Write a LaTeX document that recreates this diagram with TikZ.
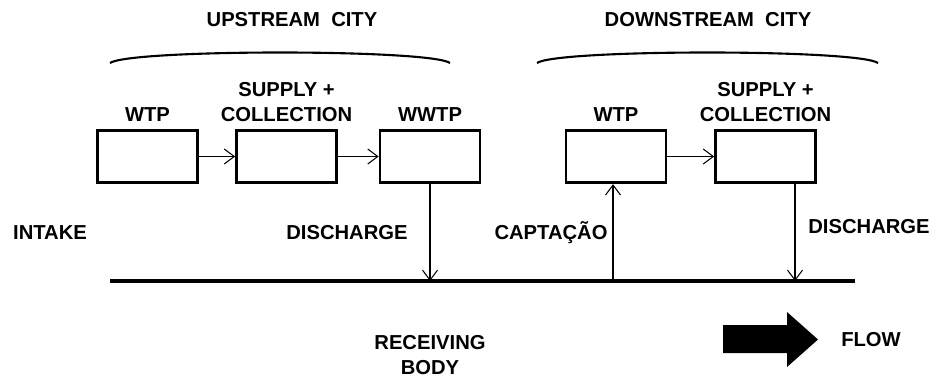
\documentclass[tikz,border=0pt]{standalone}
\usepackage{fontspec}
\setmainfont{Liberation Sans}
\usepackage{tikz}
\usetikzlibrary{arrows.meta}

\tikzset{
  box/.style={draw, line width=1.6pt, minimum width=2cm, minimum height=1.05cm},
  txt/.style={font=\fontsize{11.5}{14.2}\selectfont\bfseries, align=center},
  boxlabel/.style={label={[txt, label distance=0.02cm]above:#1}},
  pipe/.style={-{Straight Barb[length=2mm,width=3mm]}, line width=0.6pt}
}

\begin{document}
\begin{tikzpicture}
\useasboundingbox (0,0) rectangle (18.74,7.56);

\node[txt] (upcity) at (5.84,7.16) {UPSTREAM~~CITY};
\node[txt] (downcity) at (14.16,7.16) {DOWNSTREAM~~CITY};
\draw[line width=1.2pt] (2.2,6.30) .. controls (2.6,6.58) and (8.6,6.58) .. (9.0,6.30);
\draw[line width=1.2pt] (10.74,6.30) .. controls (11.14,6.58) and (17.16,6.58) .. (17.56,6.30);

\node[box, boxlabel={WTP}] (wtp1) at (2.95,4.43) {};
\node[box, boxlabel={SUPPLY +\\COLLECTION}] (supply1) at (5.73,4.43) {};
\node[box, boxlabel={WWTP}] (wwtp) at (8.6,4.43) {};
\node[box, boxlabel={WTP}] (wtp2) at (12.32,4.43) {};
\node[box, boxlabel={SUPPLY +\\COLLECTION}] (supply2) at (15.31,4.43) {};

\draw[pipe] (wtp1) -- (supply1);
\draw[pipe] (supply1) -- (wwtp);
\draw[pipe] (wtp2) -- (supply2);

\coordinate (riverw) at (2.2,1.94);
\coordinate (rivere) at (17.1,1.94);
\draw[line width=2pt] (riverw) -- (rivere);

\coordinate (out1) at (8.6,1.94);
\coordinate (in2) at (12.26,1.94);
\coordinate (out2) at (15.9,1.94);
\draw[pipe] (wwtp.south) -- (out1);
\draw[pipe] (in2) -- (in2 |- wtp2.south);
\draw[pipe] (out2 |- supply2.south) -- (out2);

\node[txt] (intake) at (1.0,2.90) {INTAKE};
\node[txt] (dis1) at (6.94,2.90) {DISCHARGE};
\node[txt] (capt) at (11.02,2.90) {CAPTAÇÃO};
\node[txt] (dis2) at (17.38,3.02) {DISCHARGE};
\node[txt] (body) at (8.6,0.46) {RECEIVING\\BODY};
\node[txt] (flow) at (17.42,0.76) {FLOW};

\fill (14.46,0.50) -- (14.46,1.06) -- (15.74,1.06) -- (15.74,1.32) -- (16.36,0.77)
  -- (15.74,0.22) -- (15.74,0.50) -- cycle;
\end{tikzpicture}
\end{document}
